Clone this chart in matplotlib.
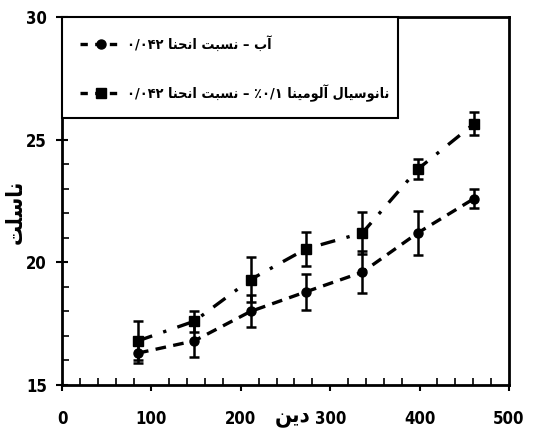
import matplotlib
matplotlib.use("Agg")
import matplotlib.pyplot as plt
from matplotlib.ticker import MultipleLocator
from matplotlib.lines import Line2D
from matplotlib.patches import Rectangle

# ---------------- data ----------------
dean = [85, 148, 211, 273, 336, 398, 461]
nu_water = [16.3, 16.8, 18.0, 18.8, 19.6, 21.2, 22.6]
err_water = [0.4, 0.65, 0.65, 0.73, 0.87, 0.9, 0.4]
nu_nano = [16.8, 17.6, 19.3, 20.55, 21.2, 23.8, 25.65]
err_nano = [0.8, 0.43, 0.9, 0.7, 0.87, 0.4, 0.47]

label_water = "آب – نسبت انحنا ۰/۰۴۲"
label_nano = "نانوسیال آلومینا ٪۰/۱ – نسبت انحنا ۰/۰۴۲"
xlabel_txt = "دین"
ylabel_txt = "ناسلت"
xticks = [0, 100, 200, 300, 400, 500]
yticks = [15, 20, 25, 30]

# ------------- minimal Persian shaping (presentation forms) -------------
FORMS = {  # iso, fin, ini, med
    'ا': (0xFE8D, 0xFE8E, None, None),
    'آ': (0xFE81, 0xFE82, None, None),
    'د': (0xFEA9, 0xFEAA, None, None),
    'و': (0xFEED, 0xFEEE, None, None),
    'ب': (0xFE8F, 0xFE90, 0xFE91, 0xFE92),
    'ت': (0xFE95, 0xFE96, 0xFE97, 0xFE98),
    'ح': (0xFEA1, 0xFEA2, 0xFEA3, 0xFEA4),
    'س': (0xFEB1, 0xFEB2, 0xFEB3, 0xFEB4),
    'ل': (0xFEDD, 0xFEDE, 0xFEDF, 0xFEE0),
    'م': (0xFEE1, 0xFEE2, 0xFEE3, 0xFEE4),
    'ن': (0xFEE5, 0xFEE6, 0xFEE7, 0xFEE8),
    'ی': (0xFEEF, 0xFEF0, 0xFEF3, 0xFEF4),
}


def joins_left(c):
    return c in FORMS and FORMS[c][2] is not None


def shape_word(w):
    if not any(ch in FORMS for ch in w):
        return w  # numbers / symbols keep visual order
    out = []
    for i, ch in enumerate(w):
        if ch not in FORMS:
            out.append(ch)
            continue
        prev_j = i > 0 and joins_left(w[i - 1])
        next_j = i < len(w) - 1 and w[i + 1] in FORMS and joins_left(ch)
        iso, fin, ini, med = FORMS[ch]
        if prev_j and next_j:
            cp = med
        elif prev_j:
            cp = fin
        elif next_j:
            cp = ini
        else:
            cp = iso
        out.append(chr(cp))
    return "".join(reversed(out))


def visual(text):
    return " ".join(shape_word(t) for t in reversed(text.split(" ")))


FA = ['DejaVu Sans']
NUMF = ['DejaVu Sans']

# ---------------- figure ----------------
fig = plt.figure(figsize=(5.33, 4.30), dpi=100)
ax = fig.add_axes([62 / 533, 45 / 430, 447 / 533, 368 / 430])

ax.errorbar(dean, nu_water, yerr=err_water, fmt='o', color='black', ls=(0, (3.2, 2.2)),
            lw=2.4, ms=6.5, capsize=3.5, elinewidth=1.8, capthick=1.8)
ax.errorbar(dean, nu_nano, yerr=err_nano, fmt='s', color='black', ls=(0, (4.5, 3.5, 1, 3.5)),
            lw=2.4, ms=6.5, capsize=3.5, elinewidth=1.8, capthick=1.8)

ax.set_xlim(0, 500)
ax.set_ylim(15, 30)
ax.set_xticks(xticks)
ax.set_yticks(yticks)
ax.xaxis.set_minor_locator(MultipleLocator(20))
ax.yaxis.set_minor_locator(MultipleLocator(1))
ax.tick_params(axis='x', which='major', direction='out', length=4, width=1.5, pad=14)
ax.tick_params(axis='y', which='major', direction='inout', length=8, width=1.5, pad=7)
ax.tick_params(which='minor', direction='in', length=5, width=1.2)
for lab in ax.get_xticklabels() + ax.get_yticklabels():
    lab.set_family(NUMF)
    lab.set_fontweight('bold')
    lab.set_fontstretch('condensed')
    lab.set_fontsize(12)
for s in ax.spines.values():
    s.set_linewidth(2.0)

ax.set_xlabel(visual(xlabel_txt), family=FA, fontweight='bold', fontsize=16,
              fontstretch='condensed', va='center')
ax.xaxis.set_label_coords(0.517, -0.087)
ax.set_ylabel(visual(ylabel_txt), family=FA, fontweight='bold', fontsize=16,
              fontstretch='condensed')
ax.yaxis.set_label_coords(-0.081, 0.47)

# legend frame drawn as a rectangle in axes coordinates
frame = Rectangle((0, (385 - 118) / 368), (398 - 62) / 447, (118 - 17) / 368,
                  transform=ax.transAxes, facecolor='white', edgecolor='black',
                  lw=1.5, zorder=4.5, clip_on=False)
ax.add_patch(frame)

h1 = Line2D([], [], color='black', ls=(0, (2.2, 2.2)), lw=2.4, marker='o', ms=6.5)
h2 = Line2D([], [], color='black', ls=(0, (2.2, 2.2)), lw=2.4, marker='s', ms=6.5)
leg = ax.legend([h1, h2], [visual(label_water), visual(label_nano)],
                loc='upper left', bbox_to_anchor=((80 - 62) / 447, (385 - 36) / 368),
                borderaxespad=0, borderpad=0, frameon=False,
                prop={'family': FA, 'weight': 'bold', 'size': 10.4, 'stretch': 'condensed'},
                handlelength=2.9, handletextpad=0.35, labelspacing=2.25)
leg.set_zorder(5)

fig.savefig("out.png", dpi=100)
